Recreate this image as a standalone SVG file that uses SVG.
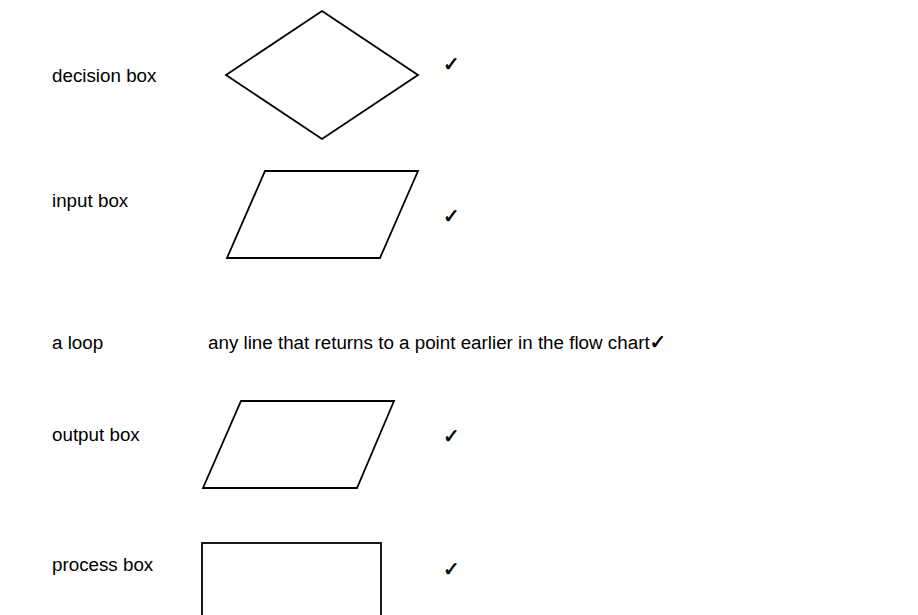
<svg xmlns="http://www.w3.org/2000/svg" width="918" height="615" viewBox="0 0 918 615">
<style>
.lbl{font-family:"Liberation Sans",Arial,sans-serif;font-size:18.8px;fill:#000}
.chk{font-family:"DejaVu Sans",sans-serif;font-size:20px;fill:#000;stroke:#000;stroke-width:0.6}
.shape{fill:none;stroke:#000;stroke-width:1.8;stroke-linejoin:miter}
</style>
<rect width="918" height="615" fill="#fff"/>
<g id="decision">
<text class="lbl" x="52" y="82">decision box</text>
<polygon class="shape" points="322,11 418,75 322,139 226,75"/>
<text class="chk" x="443" y="71">✓</text>
</g>
<g id="input">
<text class="lbl" x="52" y="207">input box</text>
<polygon class="shape" points="265,171 418,171 380,258 227,258"/>
<text class="chk" x="443" y="223">✓</text>
</g>
<g id="loop">
<text class="lbl" x="52" y="349">a loop</text>
<text class="lbl" x="208" y="349">any line that returns to a point earlier in the flow chart<tspan class="chk">✓</tspan></text>
</g>
<g id="output">
<text class="lbl" x="52" y="441">output box</text>
<polygon class="shape" points="241,401 394,401 357,488 203,488"/>
<text class="chk" x="443" y="443">✓</text>
</g>
<g id="process">
<text class="lbl" x="52" y="571">process box</text>
<rect class="shape" x="202" y="543" width="179" height="74"/>
<text class="chk" x="443" y="576">✓</text>
</g>
<g id="connectors"/>
</svg>
